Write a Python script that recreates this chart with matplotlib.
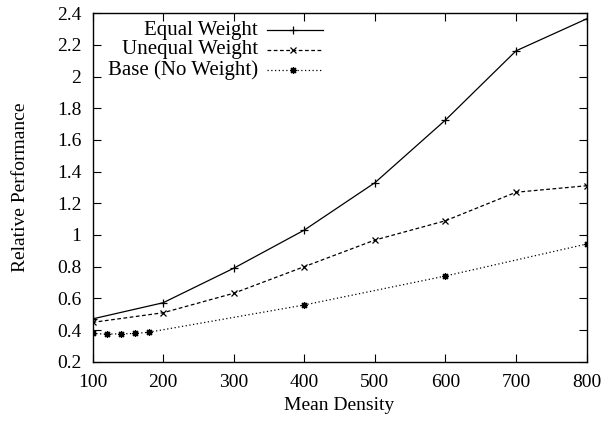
import matplotlib
matplotlib.use("Agg")
import matplotlib.pyplot as plt
from matplotlib.lines import Line2D

plt.rcParams['font.family'] = ['Liberation Serif', 'DejaVu Serif']
plt.rcParams['font.size'] = 14

# Mean density values and relative performance of each weighting scheme
density = [100, 200, 300, 400, 500, 600, 700, 800]
equal_weight = [0.47, 0.572, 0.79, 1.031, 1.33, 1.726, 2.163, 2.365]
unequal_weight = [0.448, 0.509, 0.632, 0.80, 0.968, 1.09, 1.27, 1.311]

base_density = [100, 120, 140, 160, 180, 400, 600, 800]
base_perf = [0.378, 0.374, 0.376, 0.378, 0.386, 0.558, 0.741, 0.943]

labels = ["Equal Weight", "Unequal Weight", "Base (No Weight)"]
x_ticks = [100, 200, 300, 400, 500, 600, 700, 800]
y_ticks = [0.2, 0.4, 0.6, 0.8, 1.0, 1.2, 1.4, 1.6, 1.8, 2.0, 2.2, 2.4]
y_tick_labels = ["0.2", "0.4", "0.6", "0.8", "1", "1.2", "1.4", "1.6", "1.8", "2", "2.2", "2.4"]

asterisk = (8, 2, 0)
styles = [
    dict(linestyle='-', marker='+', markersize=6, markeredgewidth=0.9),
    dict(linestyle=(0, (3, 2)), marker='x', markersize=4.5, markeredgewidth=0.9),
    dict(linestyle=(0, (1, 2)), marker=asterisk, markersize=5, markeredgewidth=0.9),
]

fig = plt.figure(figsize=(6.13, 4.25), dpi=100)
ax = fig.add_axes([0.1509, 0.149, 0.957 - 0.1509, 0.9687 - 0.149])

series = [(density, equal_weight), (density, unequal_weight), (base_density, base_perf)]
for (xs, ys), st in zip(series, styles):
    ax.plot(xs, ys, color='black', linewidth=0.9, **st)

ax.set_xlim(100, 800)
ax.set_ylim(0.2, 2.4)
ax.set_xticks(x_ticks)
ax.set_yticks(y_ticks)
ax.set_yticklabels(y_tick_labels)
ax.tick_params(direction='in', length=6, width=0.8, top=True, right=True)
ax.tick_params(axis='x', pad=9)
ax.tick_params(axis='y', pad=8)
for sp in ax.spines.values():
    sp.set_linewidth(1.0)

ax.set_xlabel("Mean Density", va='center')
ax.set_ylabel("Relative Performance", va='center')
ax.xaxis.set_label_coords(0.5, -0.126)
ax.yaxis.set_label_coords(-0.1467, 0.5)

# gnuplot-style key: right-aligned text followed by a line sample
rows = [0.951, 0.895, 0.838]
for label, st, yr in zip(labels, styles, rows):
    ax.text(0.335, yr, label, transform=ax.transAxes, ha='right', va='center', fontsize=15)
    ax.add_line(Line2D([0.354, 0.466], [yr, yr], transform=ax.transAxes, color='black',
                       linewidth=0.9, linestyle=st['linestyle']))
    ax.add_line(Line2D([0.405], [yr], transform=ax.transAxes, color='black',
                       linestyle='none', marker=st['marker'], markersize=st['markersize'],
                       markeredgewidth=st['markeredgewidth']))

fig.savefig("out.png", dpi=100)
